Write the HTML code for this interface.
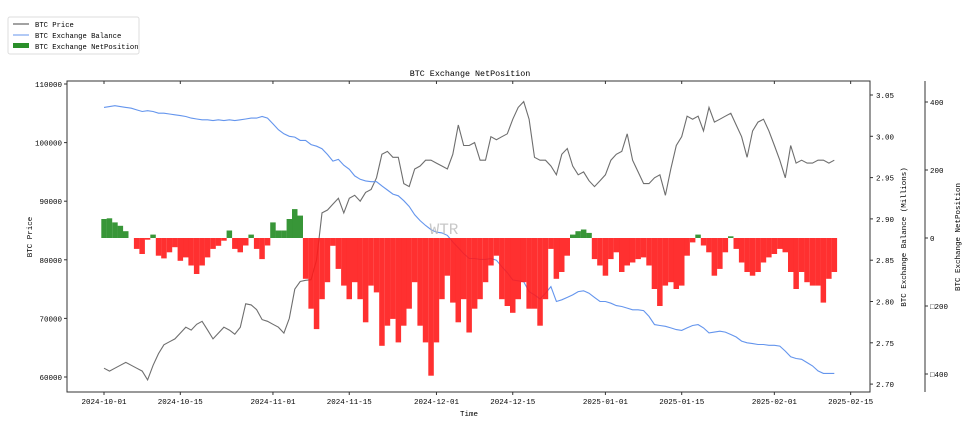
<!DOCTYPE html>
<html><head><meta charset="utf-8">
<style>
html,body{margin:0;padding:0;background:#fff;}
svg{display:block;font-family:"Liberation Mono","WenQuanYi Zen Hei",monospace;}
</style></head>
<body>
<svg id="chart" width="978" height="436" viewBox="0 0 978 436" xmlns="http://www.w3.org/2000/svg">
  <g>
    <rect x="8" y="17" width="131" height="37" fill="#fff" stroke="#ddd" stroke-width="1" rx="2"/>
    <line x1="13" y1="24" x2="29" y2="24" stroke="#444" stroke-width="1"/>
    <text x="35" y="27" font-size="7.2" fill="#000">BTC Price</text>
    <line x1="13" y1="35" x2="29" y2="35" stroke="#6495ED" stroke-width="1"/>
    <text x="35" y="38" font-size="7.2" fill="#000">BTC Exchange Balance</text>
    <rect x="13" y="43" width="16" height="5" fill="#2a8f2a"/>
    <text x="35" y="49" font-size="7.2" fill="#000">BTC Exchange NetPosition</text>
  </g>
  <text x="470" y="76" font-size="8.4" text-anchor="middle">BTC Exchange NetPosition</text>
  <text x="469" y="416" font-size="7.5" text-anchor="middle">Time</text>
  <text transform="translate(32,237) rotate(-90)" font-size="7.5" text-anchor="middle">BTC Price</text>
  <text transform="translate(906,237) rotate(-90)" font-size="7.5" text-anchor="middle">BTC Exchange Balance (Millions)</text>
  <text transform="translate(960,237) rotate(-90)" font-size="7.5" text-anchor="middle">BTC Exchange NetPosition</text>
  <g id="price-g"></g>
  <g id="bal-g"></g>
  <g id="bars-g"></g>
  <text x="444" y="234" font-size="16" fill="#bbb" opacity="0.8" text-anchor="middle">WTR</text>
  <g id="axes-g"></g>
</svg>
<script>
const xTickLabels = ["2024-10-01","2024-10-15","2024-11-01","2024-11-15","2024-12-01","2024-12-15","2025-01-01","2025-01-15","2025-02-01","2025-02-15"];
const xTickDays = [0,14,31,45,61,75,92,106,123,137];
const priceTicks = [60000,70000,80000,90000,100000,110000];
const balanceTicks = [2.70,2.75,2.80,2.85,2.90,2.95,3.00,3.05];
const netTicks = [-400,-200,0,200,400];
const netTickLabels = ["\u25A1400","\u25A1200","0","200","400"];

const priceK = [61.5,61,61.5,62,62.5,62,61.5,61,59.5,62,
64,65.5,66,66.5,67.5,68.5,68,69,69.5,68,
66.5,67.5,68.5,68,67.3,68.5,72.5,72.3,71.5,69.8,
69.5,69,68.5,67.5,70,75,76.3,76.5,76.6,80,
88,88.5,89.5,90.5,88,90.5,91,90,91.5,92,
94,98,98.5,97.5,97.5,93,92.5,95.5,96,97,
97,96.5,96,95.5,98,103,99.5,99.5,100,97,
97,101,100.5,101,101.5,104,106,107,104,97.5,
97,97,96,94.5,98,99,96,94.5,95,93.5,
92.5,93.5,94.5,97,98,98.5,101.5,97,95,93,
93,94,94.5,91,95.5,99.5,101,104.5,104,104.5,
102,106,103.5,104,104.5,105,103,101,97.5,102,
103.5,104,102,99.5,97,94,99.5,96.5,97,96.5,
96.5,97,97,96.5,97];

const balance = [3.035,3.036,3.037,3.036,3.035,3.034,3.032,3.030,3.031,3.030,
3.028,3.028,3.027,3.026,3.025,3.024,3.022,3.021,3.020,3.020,
3.019,3.020,3.019,3.020,3.019,3.020,3.021,3.022,3.022,3.024,
3.022,3.015,3.008,3.003,3.000,2.999,2.995,2.995,2.990,2.988,
2.985,2.978,2.970,2.972,2.965,2.960,2.952,2.948,2.946,2.945,
2.945,2.940,2.935,2.930,2.928,2.922,2.915,2.905,2.898,2.892,
2.887,2.884,2.883,2.880,2.872,2.865,2.858,2.852,2.852,2.851,
2.851,2.852,2.850,2.842,2.835,2.826,2.825,2.824,2.812,2.808,
2.803,2.810,2.818,2.800,2.802,2.805,2.808,2.812,2.813,2.810,
2.805,2.800,2.800,2.798,2.795,2.794,2.792,2.790,2.790,2.789,
2.782,2.772,2.771,2.770,2.768,2.766,2.765,2.768,2.771,2.772,
2.768,2.762,2.763,2.764,2.763,2.760,2.757,2.752,2.750,2.749,
2.748,2.748,2.747,2.747,2.746,2.740,2.733,2.731,2.730,2.726,
2.722,2.716,2.713,2.713,2.713];

const netPosition = [56,58,46,36,20,0,-32,-47,-5,10,
-52,-60,-42,-27,-67,-57,-81,-106,-81,-57,
-32,-23,-8,22,-32,-42,-22,10,-32,-62,
-22,46,22,22,56,85,66,-120,-208,-268,
-180,-130,-23,-91,-140,-180,-130,-180,-248,-140,
-160,-317,-258,-238,-307,-258,-208,-130,-258,-307,
-405,-307,-180,-111,-190,-248,-180,-278,-208,-180,
-130,-81,-52,-180,-200,-220,-180,-130,-208,-208,
-258,-180,-32,-120,-100,-52,10,20,25,15,
-62,-81,-111,-62,-42,-100,-81,-72,-62,-57,
-81,-150,-200,-140,-130,-150,-140,-52,-13,10,
-22,-42,-111,-91,-42,5,-32,-72,-100,-111,
-100,-72,-57,-47,-32,-42,-100,-150,-100,-130,
-140,-140,-190,-120,-100];

const NS="http://www.w3.org/2000/svg";
const L=67,R=870,T=81,B=392;
const xDay = d => 104 + d*5.45;
const yPrice = v => 84 + (110000 - v)/10000*58.6;
const yBal = v => 95 + (3.05 - v)/0.05*41.3;
const yNet = v => 238 - v*0.34;
function mk(tag, attrs, parent){const e=document.createElementNS(NS,tag);for(const k in attrs)e.setAttribute(k,attrs[k]);parent.appendChild(e);return e;}

const priceG=document.getElementById('price-g');
let pd=priceK.map((v,i)=>(i?'L':'M')+xDay(i).toFixed(1)+','+yPrice(v*1000).toFixed(1)).join('');
const pl=mk('path',{d:pd,fill:'none',stroke:'#6e6e6e','stroke-width':1.1},priceG);



const balG=document.getElementById('bal-g');
let bd=balance.map((v,i)=>(i?'L':'M')+xDay(i).toFixed(1)+','+yBal(v).toFixed(1)).join('');
const bl=mk('path',{d:bd,fill:'none',stroke:'#6495ED','stroke-width':1.1},balG);



const barsG=document.getElementById('bars-g');
netPosition.forEach((v,i)=>{
  const y0=yNet(0), y1=yNet(v);
  const r=mk('rect',{x:(xDay(i)-2.75).toFixed(1),y:Math.min(y0,y1).toFixed(1),width:5.5,height:Math.abs(y1-y0).toFixed(1),fill:v>=0?'#228B22':'#ff1a1a',opacity:0.9},barsG);
  
  
});

const ax=document.getElementById('axes-g');
mk('rect',{x:L,y:T,width:R-L,height:B-T,fill:'none',stroke:'#333','stroke-width':1},ax);
mk('line',{x1:925,y1:T,x2:925,y2:B,stroke:'#333','stroke-width':1},ax);
xTickDays.forEach((d,i)=>{
  const x=xDay(d);
  mk('line',{x1:x,y1:B,x2:x,y2:B+3,stroke:'#333'},ax);
  mk('line',{x1:x,y1:T,x2:x,y2:T+3,stroke:'#333'},ax);
  const t=mk('text',{x:x,y:B+12,'font-size':7.5,'text-anchor':'middle'},ax);
  t.textContent=xTickLabels[i];
  
  
});
priceTicks.forEach(v=>{
  const y=yPrice(v);
  mk('line',{x1:L-3,y1:y,x2:L,y2:y,stroke:'#333'},ax);
  const t=mk('text',{x:L-5,y:y+3,'font-size':7.5,'text-anchor':'end'},ax);
  t.textContent=String(v);
  
  
});
balanceTicks.forEach(v=>{
  const y=yBal(v);
  mk('line',{x1:R,y1:y,x2:R+3,y2:y,stroke:'#333'},ax);
  const t=mk('text',{x:R+6,y:y+3,'font-size':7.5},ax);
  t.textContent=v.toFixed(2);
  
  
});
netTicks.forEach((v,i)=>{
  const y=yNet(v);
  mk('line',{x1:925,y1:y,x2:928,y2:y,stroke:'#333'},ax);
  const t=mk('text',{x:930,y:y+3,'font-size':7.5},ax);
  t.textContent=netTickLabels[i];
  
  
});
</script>
</body></html>
